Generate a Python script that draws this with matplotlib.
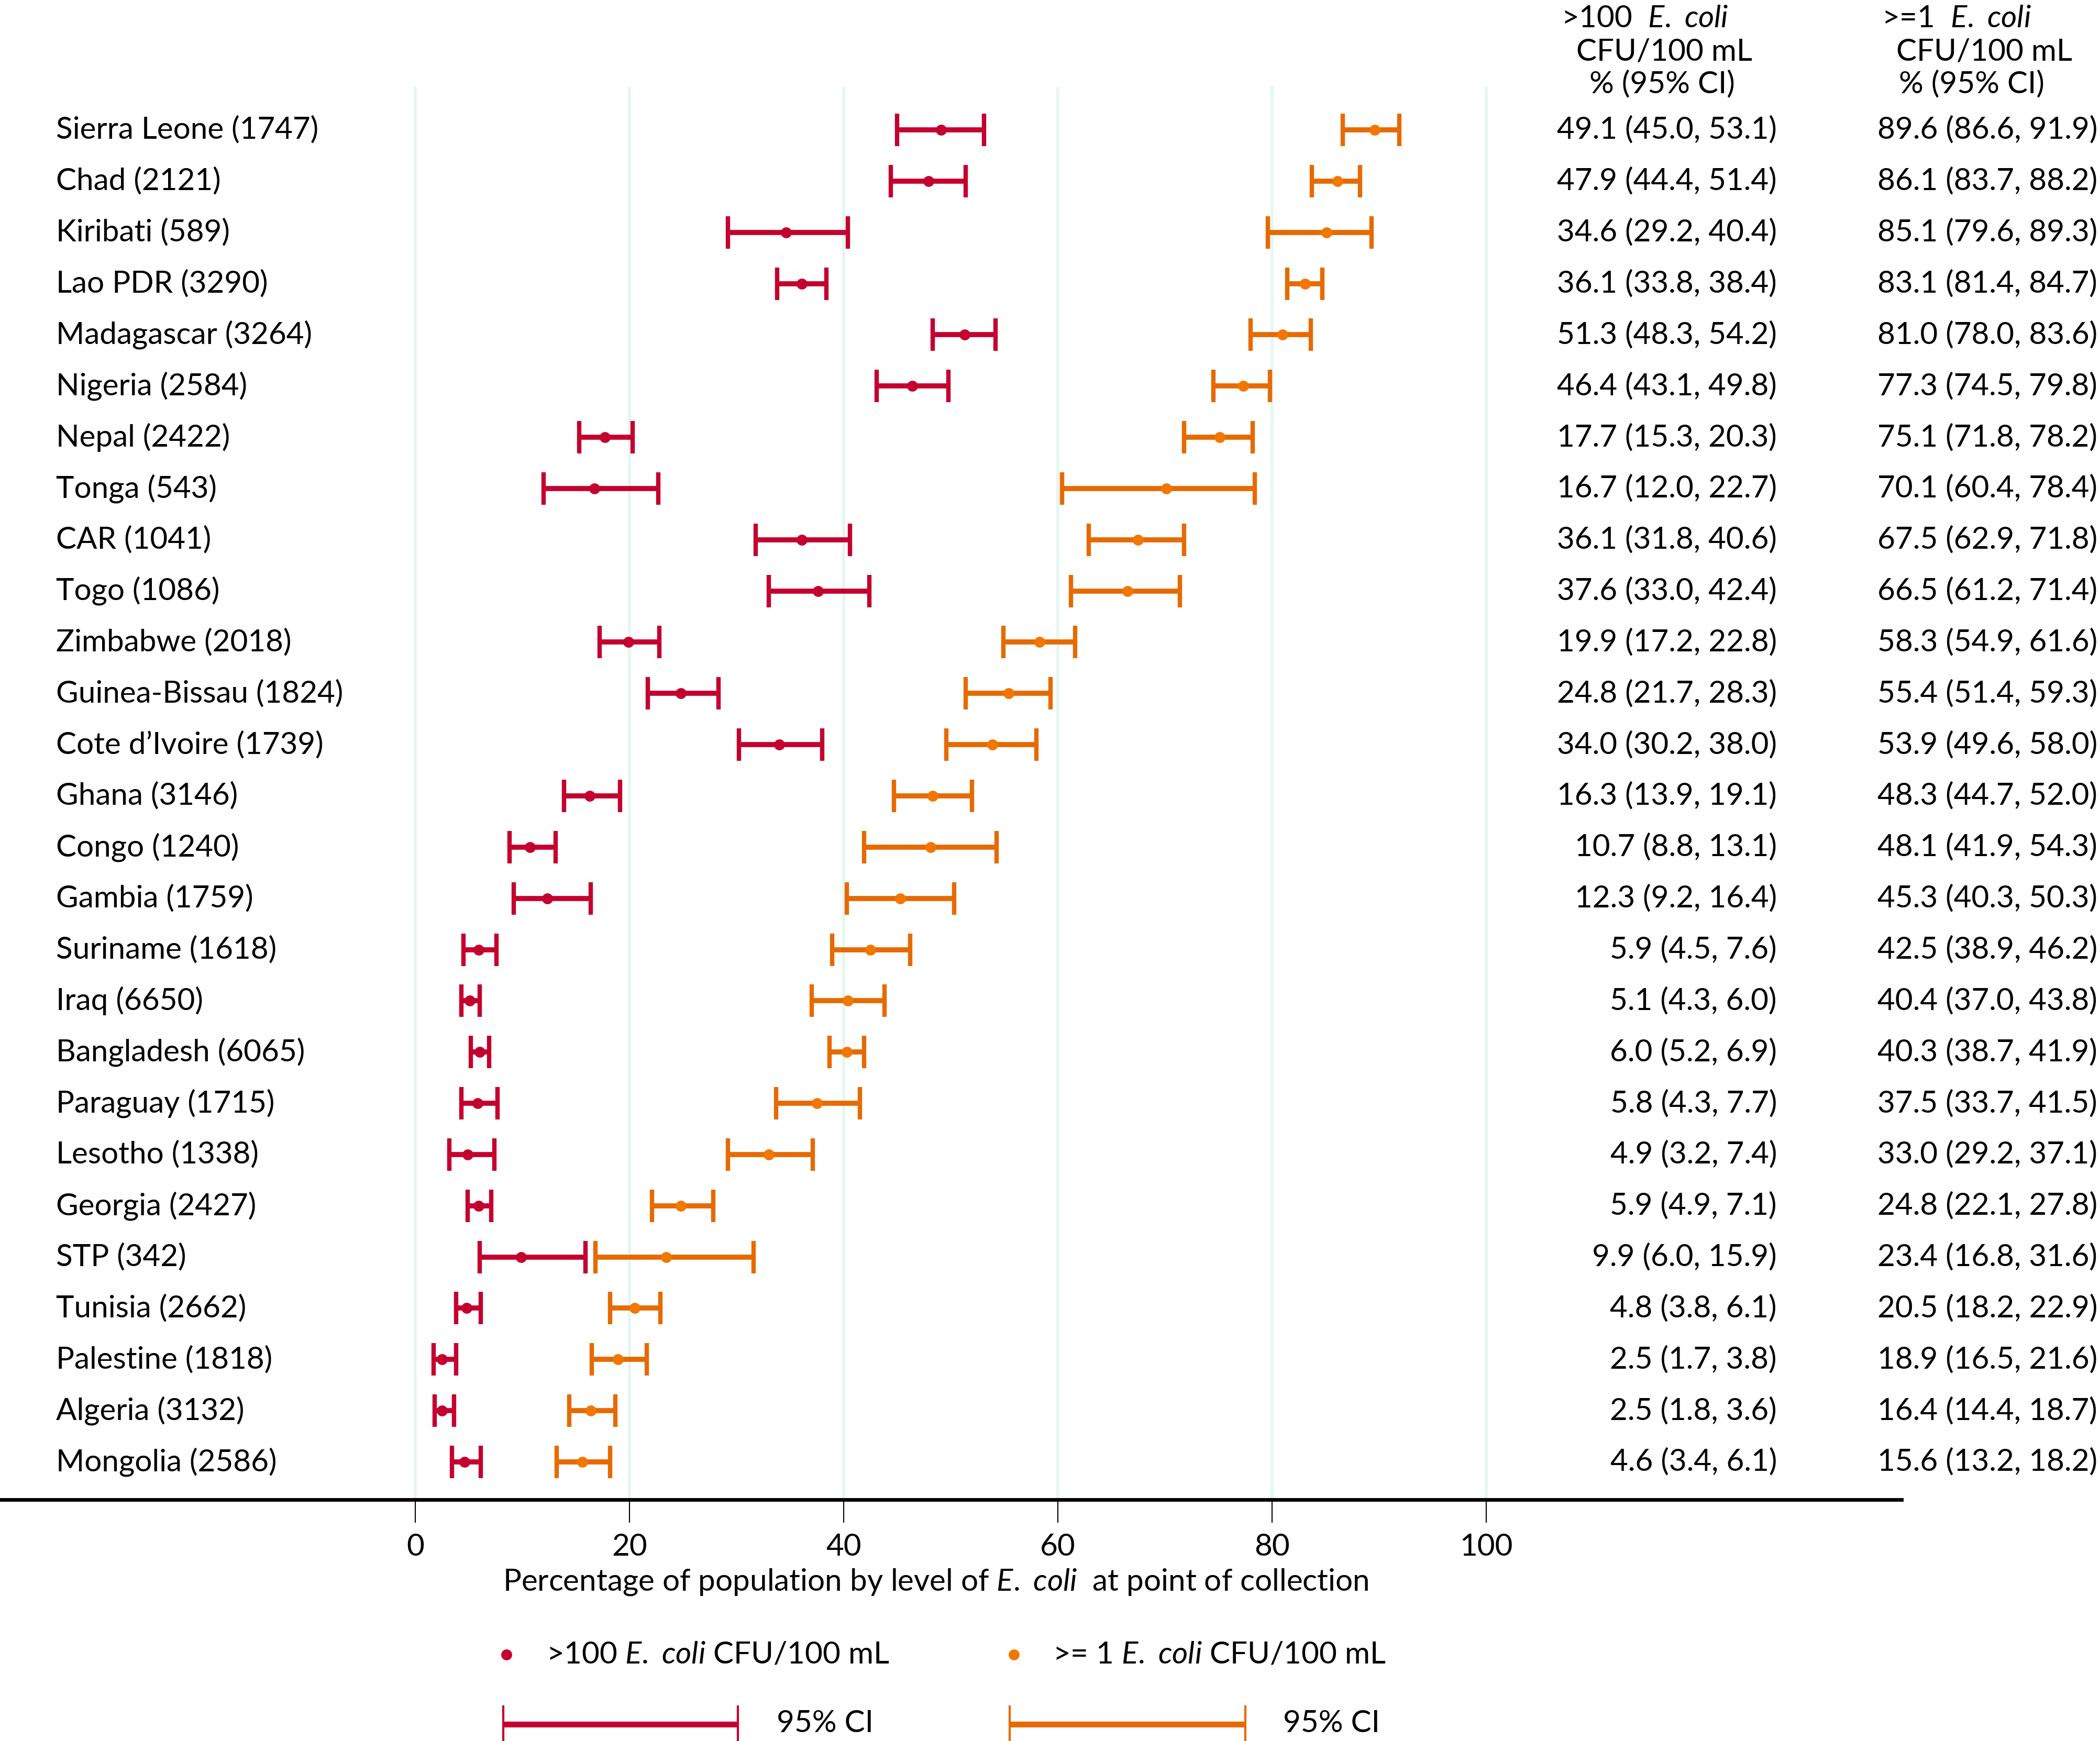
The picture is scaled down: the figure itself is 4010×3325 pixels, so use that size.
import matplotlib
matplotlib.use("Agg")
import matplotlib.pyplot as plt
from matplotlib.transforms import blended_transform_factory

# font close to the Calibri look of the original
plt.rcParams['font.family'] = ['Lato', 'DejaVu Sans']
plt.rcParams['mathtext.fontset'] = 'custom'
plt.rcParams['mathtext.rm'] = 'Lato'
plt.rcParams['mathtext.it'] = 'Lato:italic'

countries = ["Sierra Leone (1747)", "Chad (2121)", "Kiribati (589)", "Lao PDR (3290)",
             "Madagascar (3264)", "Nigeria (2584)", "Nepal (2422)", "Tonga (543)",
             "CAR (1041)", "Togo (1086)", "Zimbabwe (2018)", "Guinea-Bissau (1824)",
             "Cote d\u2019Ivoire (1739)", "Ghana (3146)", "Congo (1240)", "Gambia (1759)",
             "Suriname (1618)", "Iraq (6650)", "Bangladesh (6065)", "Paraguay (1715)",
             "Lesotho (1338)", "Georgia (2427)", "STP (342)", "Tunisia (2662)",
             "Palestine (1818)", "Algeria (3132)", "Mongolia (2586)"]

# >100 E. coli CFU/100 mL
high_est = [49.1, 47.9, 34.6, 36.1, 51.3, 46.4, 17.7, 16.7, 36.1, 37.6, 19.9, 24.8, 34.0,
            16.3, 10.7, 12.3, 5.9, 5.1, 6.0, 5.8, 4.9, 5.9, 9.9, 4.8, 2.5, 2.5, 4.6]
high_lo = [45.0, 44.4, 29.2, 33.8, 48.3, 43.1, 15.3, 12.0, 31.8, 33.0, 17.2, 21.7, 30.2,
           13.9, 8.8, 9.2, 4.5, 4.3, 5.2, 4.3, 3.2, 4.9, 6.0, 3.8, 1.7, 1.8, 3.4]
high_hi = [53.1, 51.4, 40.4, 38.4, 54.2, 49.8, 20.3, 22.7, 40.6, 42.4, 22.8, 28.3, 38.0,
           19.1, 13.1, 16.4, 7.6, 6.0, 6.9, 7.7, 7.4, 7.1, 15.9, 6.1, 3.8, 3.6, 6.1]

# >=1 E. coli CFU/100 mL
any_est = [89.6, 86.1, 85.1, 83.1, 81.0, 77.3, 75.1, 70.1, 67.5, 66.5, 58.3, 55.4, 53.9,
           48.3, 48.1, 45.3, 42.5, 40.4, 40.3, 37.5, 33.0, 24.8, 23.4, 20.5, 18.9, 16.4, 15.6]
any_lo = [86.6, 83.7, 79.6, 81.4, 78.0, 74.5, 71.8, 60.4, 62.9, 61.2, 54.9, 51.4, 49.6,
          44.7, 41.9, 40.3, 38.9, 37.0, 38.7, 33.7, 29.2, 22.1, 16.8, 18.2, 16.5, 14.4, 13.2]
any_hi = [91.9, 88.2, 89.3, 84.7, 83.6, 79.8, 78.2, 78.4, 71.8, 71.4, 61.6, 59.3, 58.0,
          52.0, 54.3, 50.3, 46.2, 43.8, 41.9, 41.5, 37.1, 27.8, 31.6, 22.9, 21.6, 18.7, 18.2]

x_ticks = [0, 20, 40, 60, 80, 100]

RED = '#C4002F'
ORANGE = '#E66A00'
ORANGE_DOT = '#F27700'
GRID = '#E4F6F0'
FS = 42

W, H = 4010, 3325
fig = plt.figure(figsize=(W / 100, H / 100), dpi=100)

# axes runs the full width of the black axis line; 0..100 sits at px 793..2838
left_px, right_px, top_px, bot_px = 0, 3631, 166, 2864
ax = fig.add_axes([left_px / W, 1 - bot_px / H, (right_px - left_px) / W, (bot_px - top_px) / H])
ppu = (2838 - 793) / 100.0
ax.set_xlim((left_px - 793) / ppu, (right_px - 793) / ppu)
n = len(countries)
row_h = (2792 - 248) / (n - 1)
ax.set_ylim(n - 1 + (bot_px - 2792) / row_h, -(248 - top_px) / row_h)

for t in x_ticks:
    ax.axvline(t, color=GRID, lw=4, zorder=0)

rows = list(range(n))
ax.errorbar(high_est, rows,
            xerr=[[e - l for e, l in zip(high_est, high_lo)], [h - e for e, h in zip(high_est, high_hi)]],
            fmt='none', ecolor=RED, elinewidth=7, capsize=22, capthick=6, zorder=3)
ax.plot(high_est, rows, 'o', color=RED, ms=15, mec='none', zorder=4)
ax.errorbar(any_est, rows,
            xerr=[[e - l for e, l in zip(any_est, any_lo)], [h - e for e, h in zip(any_est, any_hi)]],
            fmt='none', ecolor=ORANGE, elinewidth=7, capsize=22, capthick=6, zorder=3)
ax.plot(any_est, rows, 'o', color=ORANGE_DOT, ms=15, mec='none', zorder=4)

for s in ['top', 'left', 'right']:
    ax.spines[s].set_visible(False)
ax.spines['bottom'].set_linewidth(5)
ax.set_yticks([])
ax.set_xticks(x_ticks)
ax.tick_params(axis='x', length=32, width=1.5, pad=14, labelsize=FS)

# row text: country labels and the two value columns
tr = blended_transform_factory(fig.transFigure, ax.transData)
for i in rows:
    ax.text(107 / W, i, countries[i], transform=tr, fontsize=FS, va='center', ha='left')
    ax.text(3393 / W, i, f"{high_est[i]:.1f} ({high_lo[i]:.1f}, {high_hi[i]:.1f})",
            transform=tr, fontsize=FS, va='center', ha='right')
    ax.text(4005 / W, i, f"{any_est[i]:.1f} ({any_lo[i]:.1f}, {any_hi[i]:.1f})",
            transform=tr, fontsize=FS, va='center', ha='right')

# column headers
def ftxt(x, y, s, **kw):
    fig.text(x / W, 1 - y / H, s, fontsize=FS, va='center', **kw)

ftxt(2981, 36, r'>100  $\mathit{E.\ coli}$')
ftxt(3010, 99, 'CFU/100 mL')
ftxt(3035, 161, '% (95% CI)')
ftxt(3593, 36, r'>=1  $\mathit{E.\ coli}$')
ftxt(3621, 99, 'CFU/100 mL')
ftxt(3626, 161, '% (95% CI)')

ftxt(1787, 3022, r'Percentage of population by level of $\mathit{E.\ coli}$  at point of collection', ha='center')

# legend
ftxt(1043, 3160, r'>100 $\mathit{E.\ coli}$ CFU/100 mL')
ftxt(2010, 3160, r'>= 1 $\mathit{E.\ coli}$ CFU/100 mL')
ftxt(1483, 3292, '95% CI')
ftxt(2450, 3292, '95% CI')

lg = fig.add_axes([0, 0, 1, 1], facecolor='none')
lg.set_xlim(0, W)
lg.set_ylim(H, 0)
lg.axis('off')
lg.plot([967], [3160], 'o', color=RED, ms=15, mec='none')
lg.plot([1936], [3160], 'o', color=ORANGE_DOT, ms=15, mec='none')
lg.errorbar([1185], [3293], xerr=[[224], [224]], fmt='none', ecolor=RED,
            elinewidth=8, capsize=26, capthick=3)
lg.errorbar([2153], [3293], xerr=[[225], [225]], fmt='none', ecolor=ORANGE,
            elinewidth=8, capsize=26, capthick=3)

fig.savefig('out.png', dpi=100)
